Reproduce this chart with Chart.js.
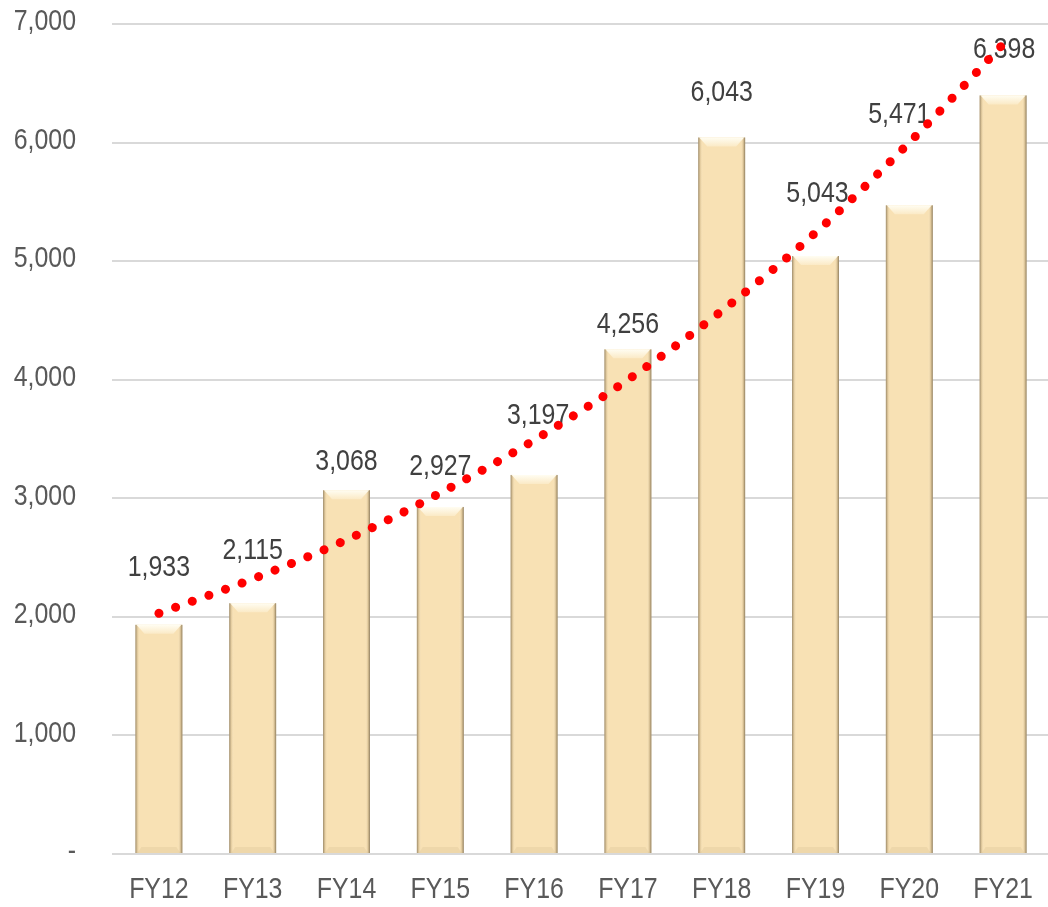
<!DOCTYPE html>
<html>
<head>
<meta charset="utf-8">
<script src="https://cdn.jsdelivr.net/npm/chart.js@4.4.1/dist/chart.umd.min.js"></script>
<style>
  html, body { margin: 0; padding: 0; background: #fff; overflow: hidden; }
  #wrap { width: 1050px; height: 907px; }
</style>
</head>
<body>
<div id="wrap"><canvas id="chart" width="1050" height="907"></canvas></div>
<script>
// --- data ---
const years  = ['FY12', 'FY13', 'FY14', 'FY15', 'FY16', 'FY17', 'FY18', 'FY19', 'FY20', 'FY21'];
const values = [1933, 2115, 3068, 2927, 3197, 4256, 6043, 5043, 5471, 6398];
const trend  = [2030, 2320, 2650, 3045, 3490, 4000, 4580, 5240, 6000, 6830]; // red dotted trendline
const yTicks = [0, 1000, 2000, 3000, 4000, 5000, 6000, 7000];

// the value labels were hand-placed in the original: lift of label centre above bar top (px)
const labelLift  = [57, 52, 28, 40, 59, 25, 45, 62, 91, 46];
const labelShift = [0, 0, 0, 0, 4, 0, 0, 2, -10, 1];

const FONT = "'Liberation Sans', Arial, sans-serif";
const NARROW = 0.83;          // the reference uses a condensed face, so squeeze the text
const BAR_FILL = '#F8E1B4';

const fmt = v => (v === 0 ? '-' : v.toLocaleString('en-US'));

// draw horizontally squeezed text
function narrowText(ctx, txt, x, y, align, color) {
  ctx.save();
  ctx.font = '30px ' + FONT;
  ctx.fillStyle = color;
  ctx.textAlign = align;
  ctx.textBaseline = 'middle';
  ctx.translate(x, y);
  ctx.scale(NARROW, 1);
  ctx.fillText(txt, 0, 0);
  ctx.restore();
}

// bevel look + value labels, drawn right after the bars so the dots sit on top
const barDecor = {
  id: 'barDecor',
  afterDatasetDraw(chart, args) {
    if (args.index !== 0) return;
    const ctx = chart.ctx;
    args.meta.data.forEach((bar, i) => {
      const { x, y, base, width } = bar.getProps(['x', 'y', 'base', 'width'], true);
      const l = x - width / 2, r = x + width / 2;
      const bev = 9;
      ctx.save();
      // side shading
      const g = ctx.createLinearGradient(l, 0, r, 0);
      g.addColorStop(0, 'rgba(110,95,70,0.7)');
      g.addColorStop(0.05, 'rgba(170,145,100,0.2)');
      g.addColorStop(0.1, 'rgba(255,255,255,0)');
      g.addColorStop(0.9, 'rgba(255,255,255,0)');
      g.addColorStop(0.95, 'rgba(170,145,100,0.25)');
      g.addColorStop(1, 'rgba(100,85,60,0.75)');
      ctx.fillStyle = g;
      ctx.fillRect(l, y, width, base - y);
      // top bevel
      const tg = ctx.createLinearGradient(0, y, 0, y + bev);
      tg.addColorStop(0, '#FFFDF2');
      tg.addColorStop(1, '#FBEAC6');
      ctx.fillStyle = tg;
      ctx.beginPath();
      ctx.moveTo(l + 1, y);
      ctx.lineTo(r - 1, y);
      ctx.lineTo(r - bev, y + bev);
      ctx.lineTo(l + bev, y + bev);
      ctx.closePath();
      ctx.fill();
      // bottom bevel (faint)
      ctx.fillStyle = 'rgba(200,175,130,0.2)';
      ctx.beginPath();
      ctx.moveTo(l + 2, base);
      ctx.lineTo(r - 2, base);
      ctx.lineTo(r - 6, base - 6);
      ctx.lineTo(l + 6, base - 6);
      ctx.closePath();
      ctx.fill();
      ctx.restore();
      // value label
      narrowText(ctx, values[i].toLocaleString('en-US'), x + labelShift[i], y - labelLift[i], 'center', '#404040');
    });
  }
};

// axis labels drawn squeezed, at positions from the chart's own scales
const axisText = {
  id: 'axisText',
  afterDraw(chart) {
    const ctx = chart.ctx;
    const xs = chart.scales.x, ys = chart.scales.y;
    yTicks.forEach(v => {
      narrowText(ctx, fmt(v), xs.left - 36, ys.getPixelForValue(v) - 2, 'right', '#595959');
    });
    years.forEach((lab, i) => {
      narrowText(ctx, lab, xs.getPixelForValue(i), ys.bottom + 36, 'center', '#595959');
    });
  }
};

new Chart(document.getElementById('chart'), {
  type: 'bar',
  data: {
    labels: years,
    datasets: [
      {
        type: 'bar',
        data: values,
        backgroundColor: BAR_FILL,
        borderWidth: 0,
        barPercentage: 0.5,
        categoryPercentage: 1,
        order: 1,
      },
      {
        type: 'line',
        data: trend,
        borderColor: '#FF0000',
        borderWidth: 9,
        borderCapStyle: 'round',
        borderDash: [0.1, 17.6],
        pointRadius: 0,
        cubicInterpolationMode: 'monotone',
        fill: false,
        order: 0,
      },
    ],
  },
  options: {
    responsive: false,
    animation: false,
    layout: { padding: { top: 24, right: 0, bottom: 0, left: 0 } },
    plugins: { legend: { display: false }, tooltip: { enabled: false } },
    scales: {
      x: {
        grid: { display: false },
        border: { display: false },
        ticks: { display: false },
        afterFit: s => { s.height = 53; },
      },
      y: {
        min: 0,
        max: 7000,
        afterBuildTicks: s => { s.ticks = yTicks.map(v => ({ value: v })); },
        grid: { color: '#D9D9D9', lineWidth: 2, drawTicks: false },
        border: { display: false },
        ticks: { display: false },
        afterFit: s => { s.width = 112; },
      },
    },
  },
  plugins: [barDecor, axisText],
});
</script>
</body>
</html>
